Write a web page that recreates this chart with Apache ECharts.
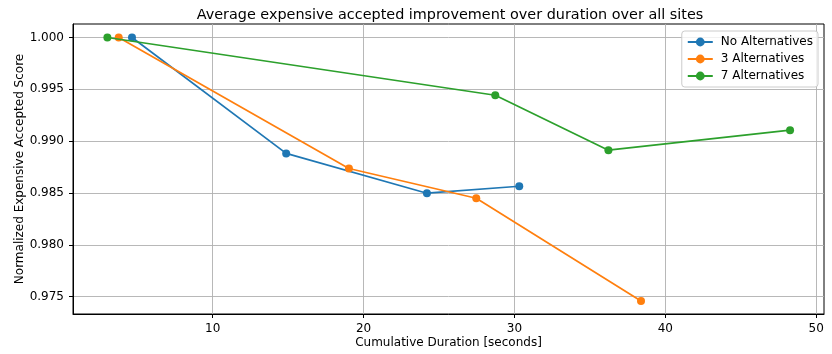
<!DOCTYPE html>
<html>
<head>
<meta charset="utf-8">
<script src="https://cdn.jsdelivr.net/npm/echarts@6/dist/echarts.min.js"></script>
<style>html,body{margin:0;padding:0;background:#fff}#c{width:832px;height:354px}</style>
</head>
<body>
<div id="c"></div>
<script>
const seriesNames = ["No Alternatives", "3 Alternatives", "7 Alternatives"];
const noAltX = [4.65, 14.87, 24.2, 30.32];
const noAltY = [1.0000, 0.98882, 0.98498, 0.98565];
const alt3X = [3.77, 19.03, 27.47, 38.39];
const alt3Y = [1.0000, 0.98736, 0.98449, 0.97458];
const alt7X = [3.02, 28.73, 36.23, 48.27];
const alt7Y = [1.0000, 0.99443, 0.98913, 0.99106];
const xTicks = [10, 20, 30, 40, 50];
const yTicks = [0.975, 0.980, 0.985, 0.990, 0.995, 1.000];
const colors = ["#1f77b4", "#ff7f0e", "#2ca02c"];

const font = "DejaVu Sans";
const pairs = (xs, ys) => xs.map((x, i) => [x, ys[i]]);
const allData = [pairs(noAltX, noAltY), pairs(alt3X, alt3Y), pairs(alt7X, alt7Y)];

const chart = echarts.init(document.getElementById('c'), null, {renderer: 'canvas'});
chart.setOption({
  animation: false,
  backgroundColor: '#fff',
  title: {
    text: 'Average expensive accepted improvement over duration over all sites',
    left: 445, top: 3, textAlign: 'center',
    textStyle: {fontFamily: font, fontSize: 14.4, fontWeight: 'normal', color: '#000'}
  },
  legend: {
    right: 14, top: 31, orient: 'vertical',
    itemWidth: 25, itemHeight: 11, itemGap: 5,
    padding: [5, 5, 5, 5],
    backgroundColor: 'rgba(255,255,255,0.8)',
    borderColor: '#cccccc', borderWidth: 1, borderRadius: 3,
    textStyle: {fontFamily: font, fontSize: 12, color: '#000', padding: [0, 0, 0, 3]},
    data: seriesNames
  },
  grid: {left: 73, right: 8, top: 24, bottom: 40, show: true, borderColor: '#000', borderWidth: 1, backgroundColor: 'transparent'},
  xAxis: {
    type: 'value', min: 0.74, max: 50.52,
    name: 'Cumulative Duration [seconds]', nameLocation: 'middle', nameGap: 23, nameMoveOverlap: false,
    nameTextStyle: {fontFamily: font, fontSize: 12, color: '#000'},
    axisLine: {show: true, lineStyle: {color: '#000', width: 1}},
    axisTick: {show: true, length: 4, lineStyle: {color: '#000'}, customValues: xTicks},
    axisLabel: {fontFamily: font, fontSize: 12, color: '#000', margin: 9, customValues: xTicks, formatter: v => String(Math.round(v))},
    splitLine: {show: true, lineStyle: {color: '#b0b0b0', width: 0.9}}
  },
  yAxis: {
    type: 'value', min: 0.97333, max: 1.0013,
    name: 'Normalized Expensive Accepted Score', nameLocation: 'middle', nameGap: 47, nameMoveOverlap: false,
    nameTextStyle: {fontFamily: font, fontSize: 12, color: '#000'},
    axisLine: {show: true, lineStyle: {color: '#000', width: 1}},
    axisTick: {show: true, length: 4, lineStyle: {color: '#000'}, customValues: yTicks},
    axisLabel: {fontFamily: font, fontSize: 12, color: '#000', margin: 9, customValues: yTicks, formatter: v => v.toFixed(3)},
    splitLine: {show: true, lineStyle: {color: '#b0b0b0', width: 0.9}}
  },
  series: seriesNames.map((n, i) => ({
    name: n, type: 'line', data: allData[i],
    color: colors[i],
    symbol: 'circle', symbolSize: 8, showSymbol: true,
    lineStyle: {width: 1.7, color: colors[i]},
    itemStyle: {color: colors[i]},
    clip: false, z: 3 + i
  }))
});
</script>
</body>
</html>
